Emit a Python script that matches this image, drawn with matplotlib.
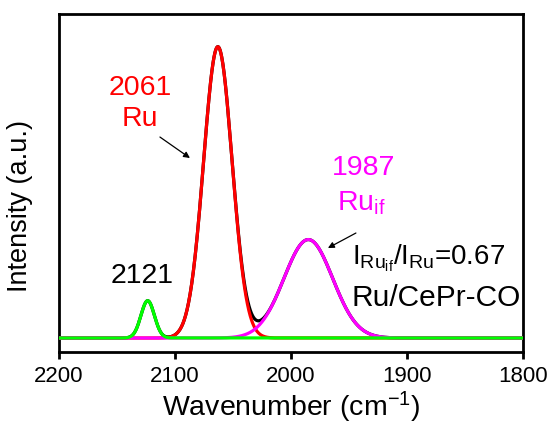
import numpy as np
import matplotlib
matplotlib.use("Agg")
import matplotlib.pyplot as plt

plt.rcParams['font.family'] = ['Liberation Sans', 'DejaVu Sans']
plt.rcParams['mathtext.fontset'] = 'custom'
plt.rcParams['mathtext.rm'] = 'Liberation Sans'
plt.rcParams['mathtext.it'] = 'Liberation Sans'

# Fitted peak parameters (Gaussian components)
peak_names = ["2121", "Ru", "Ru_if"]
peak_centers = [2123.5, 2063.0, 1985.0]   # cm-1
peak_heights = [0.128, 1.0, 0.338]        # a.u.
peak_sigmas = [5.8, 12.3, 21.0]           # cm-1
peak_colors = ["#00FF00", "#FF0000", "#FF00FF"]

x_min, x_max = 1800, 2200
x_ticks = [2200, 2100, 2000, 1900, 1800]

wn = np.linspace(x_min, x_max, 2000)
comps = [h * np.exp(-(wn - c) ** 2 / (2 * s ** 2))
         for c, h, s in zip(peak_centers, peak_heights, peak_sigmas)]
total = np.sum(comps, axis=0)

fig = plt.figure(figsize=(5.51, 4.28), dpi=100)
ax = fig.add_axes([0.107, 0.1776, 0.842, 0.7894])

lw = 2.3
ax.plot(wn, total, color="black", lw=lw, zorder=2)
ax.plot(wn, comps[1], color=peak_colors[1], lw=lw, zorder=3)
ax.plot(wn, comps[2], color=peak_colors[2], lw=lw, zorder=4)
ax.plot(wn, comps[0], color=peak_colors[0], lw=lw, zorder=5)

ax.set_xlim(x_max, x_min)
ax.set_ylim(-0.048, 1.112)
ax.set_xticks(x_ticks)
ax.set_xticklabels([str(t) for t in x_ticks], fontsize=16)
ax.set_yticks([])
ax.tick_params(axis='x', direction='out', length=5, width=2, pad=5)
for sp in ax.spines.values():
    sp.set_linewidth(2)

ax.set_xlabel(r'Wavenumber (cm$^{-1}$)', fontsize=20.5, labelpad=2)
ax.set_ylabel('Intensity (a.u.)', fontsize=19.5)
ax.yaxis.set_label_coords(-0.055, 0.432)

def dx(px):
    return 2200 - (px - 59) / 1.16

def dy(py):
    return (338 - py) / 291.3

fs = 20.5
ax.text(dx(140), dy(88), "2061", color="red", fontsize=fs, ha='center', va='center')
ax.text(dx(140), dy(119), "Ru", color="red", fontsize=fs, ha='center', va='center')
ax.annotate("", xy=(dx(190), dy(158)), xytext=(dx(160), dy(137)),
            arrowprops=dict(arrowstyle='-|>', color='black', lw=0.9,
                            mutation_scale=9, shrinkA=0, shrinkB=0))
ax.text(dx(142), dy(276), "2121", color="black", fontsize=fs, ha='center', va='center')
ax.text(dx(364), dy(168), "1987", color="#FF00FF", fontsize=fs, ha='center', va='center')
ax.text(dx(337), dy(210), r'Ru$_{\mathrm{if}}$', color="#FF00FF", fontsize=fs,
        ha='left', va='baseline')
ax.annotate("", xy=(dx(328), dy(248)), xytext=(dx(356), dy(233)),
            arrowprops=dict(arrowstyle='-|>', color='black', lw=0.9,
                            mutation_scale=9, shrinkA=0, shrinkB=0))
ax.text(dx(352), dy(258), r'I$_{\mathrm{Ru}_{\mathrm{if}}}$/I$_{\mathrm{Ru}}$=0.67',
        color="black", fontsize=20, ha='left', va='center')
ax.text(dx(352), dy(298), "Ru/CePr-CO", color="black", fontsize=21.5,
        ha='left', va='center')

fig.savefig("out.png", dpi=100)
